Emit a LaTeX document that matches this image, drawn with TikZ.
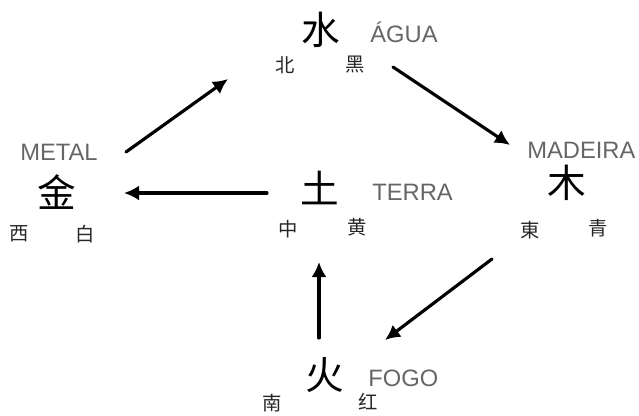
\documentclass[tikz,border=0pt]{standalone}
\usepackage{fontspec}
\setmainfont{Liberation Sans}
\newfontfamily\cjk{Noto Sans CJK SC}
\usetikzlibrary{arrows.meta}
\definecolor{elemgray}{gray}{0.4}

\begin{document}
\begin{tikzpicture}[>={Latex[length=3mm,width=3mm]},line cap=round,
  bigzi/.style={inner sep=0pt,font=\cjk\fontsize{22}{26}\selectfont},
  smallzi/.style={inner sep=0pt,text=black!85,font=\cjk\fontsize{11}{13}\selectfont},
  elemname/.style={inner sep=0pt,anchor=base west,text=elemgray,font=\fontsize{13.5}{16}\selectfont},
  cycle/.style={->,line width=1.8pt}]
\useasboundingbox (0,0) rectangle (12.78,8.3);
\node[bigzi] (agua) at (6.42,7.70) {水};
\node[elemname] (agualbl) at (7.40,7.46) {ÁGUA};
\node[smallzi] (aguadir) at (5.70,7.00) {北};
\node[smallzi] (aguacor) at (7.10,7.00) {黑};
\node[elemname] (metallbl) at (0.40,5.10) {METAL};
\node[bigzi] (metal) at (1.14,4.46) {金};
\node[smallzi] (metaldir) at (0.38,3.62) {西};
\node[smallzi] (metalcor) at (1.70,3.62) {白};
\node[bigzi] (terra) at (6.40,4.54) {土};
\node[elemname] (terralbl) at (7.44,4.30) {TERRA};
\node[smallzi] (terradir) at (5.76,3.72) {中};
\node[smallzi] (terracor) at (7.14,3.76) {黄};
\node[elemname] (madeiralbl) at (10.54,5.14) {MADEIRA};
\node[bigzi] (madeira) at (11.34,4.64) {木};
\node[smallzi] (madeiradir) at (10.60,3.70) {東};
\node[smallzi] (madeiracor) at (11.96,3.74) {青};
\node[bigzi] (fogo) at (6.50,0.80) {火};
\node[elemname] (fogolbl) at (7.36,0.58) {FOGO};
\node[smallzi] (fogodir) at (5.44,0.24) {南};
\node[smallzi] (fogocor) at (7.36,0.26) {红};
\coordinate (metal-out) at (2.52,5.26);
\coordinate (agua-in) at (4.56,6.72);
\coordinate (agua-out) at (7.86,6.96);
\coordinate (madeira-in) at (10.20,5.40);
\coordinate (madeira-out) at (9.84,3.12);
\coordinate (fogo-in) at (7.70,1.50);
\coordinate (fogo-out) at (6.38,1.54);
\coordinate (terra-in) at (6.38,3.06);
\coordinate (terra-out) at (5.34,4.44);
\coordinate (metal-in) at (2.48,4.44);
\draw[cycle] (metal-out) -- (agua-in);
\draw[cycle] (agua-out) -- (madeira-in);
\draw[cycle] (madeira-out) -- (fogo-in);
\draw[cycle] (fogo-out) -- (terra-in);
\draw[cycle] (terra-out) -- (metal-in);
\end{tikzpicture}
\end{document}
